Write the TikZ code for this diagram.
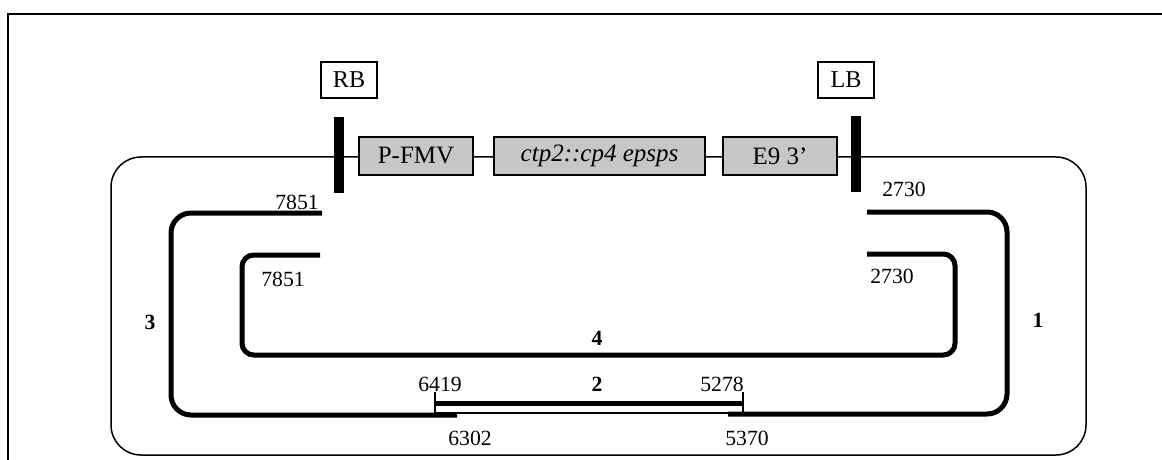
\documentclass[tikz,border=0pt]{standalone}
\usepackage{fontspec}
\setmainfont{Liberation Serif}

\begin{document}
\begin{tikzpicture}[x=0.6pt,y=-0.6pt,
    thinline/.style={line width=0.9pt},
    dnaseg/.style={line width=3pt},
    border/.style={draw,line width=1.2pt,minimum width=33.6pt,minimum height=22pt,inner sep=0pt,font=\fontsize{14.5}{16}\selectfont},
    element/.style={draw,line width=1.2pt,fill=black!22,minimum height=22.8pt,inner sep=0pt,font=\fontsize{15}{17}\selectfont},
    bar/.style={fill=black,minimum width=6pt,minimum height=45.6pt,inner sep=0pt},
    posnum/.style={font=\fontsize{13}{15}\selectfont},
    segnum/.style={font=\fontsize{13}{15}\selectfont\bfseries}]
    \useasboundingbox (0,0) rectangle (1162,460);
    % frame
    \draw[thinline] (8,460) -- (8,14) -- (1162,14);
    % backbone
    \draw[thinline,rounded corners=18pt] (111,157) rectangle (1086,455);
    \node[border] (rb) at (349,80) {RB};
    \node[border] (lb) at (846,80) {LB};
    \node[bar] (rbbar) at (339,155) {};
    \node[bar] (lbbar) at (856,154) {};
    \node[element,minimum width=68.4pt] (pfmv) at (416,156) {P-FMV};
    \node[element,minimum width=126.6pt] (ctp) at (599.5,156) {\itshape ctp2::cp4 epsps};
    \node[element,minimum width=68.4pt] (e9) at (780,156) {E9 3’};
    % fragments
    \coordinate (s3a) at (322,213);
    \coordinate (s3b) at (457,415);
    \coordinate (s1a) at (867,212);
    \coordinate (s1b) at (728,414);
    \coordinate (s4a) at (320,255);
    \coordinate (s4b) at (867,254);
    \coordinate (s2a) at (435,403);
    \coordinate (s2b) at (743,403);
    \draw[dnaseg,rounded corners=12pt] (s3a) -| (171,415) -- (s3b);
    \draw[dnaseg,rounded corners=12pt] (s1a) -| (1007,414) -- (s1b);
    \draw[dnaseg,rounded corners=7pt] (s4a) -| (242,355) -| (955,254) -- (s4b);
    \draw[dnaseg] (s2a) -- (s2b);
    \draw[thinline] (435,392) -- (435,415) (743,392) -- (743,415) (435,413) -- (743,413);
    % positions
    \node[posnum] (l7851a) at (297,202) {7851};
    \node[posnum] (l7851b) at (283,279) {7851};
    \node[posnum] (l2730a) at (904,189) {2730};
    \node[posnum] (l2730b) at (892,276) {2730};
    \node[posnum] (l6419) at (440,384) {6419};
    \node[posnum] (l5278) at (722,384) {5278};
    \node[posnum] (l6302) at (470,438) {6302};
    \node[posnum] (l5370) at (747,438) {5370};
    \node[segnum] (f3) at (150,322) {3};
    \node[segnum] (f1) at (1038,320) {1};
    \node[segnum] (f4) at (597,338) {4};
    \node[segnum] (f2) at (597,384) {2};
\end{tikzpicture}
\end{document}
